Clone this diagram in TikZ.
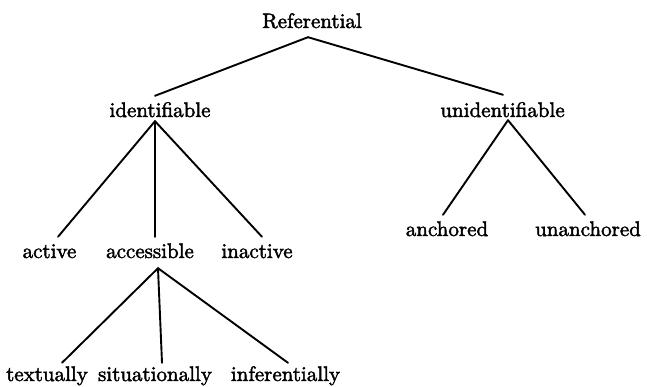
\documentclass[tikz,border=0pt]{standalone}
\usepackage{fontspec}
\newfontfamily\lblfont{lmroman10-regular.otf}[FakeBold=2]
\begin{document}
\begin{tikzpicture}[x=1pt,y=1pt,
  lbl/.style={inner sep=0pt, text height=14pt, text depth=0pt, anchor=base,
    font=\lblfont\fontsize{21}{25}\selectfont},
  branch/.style={line width=1.9pt, line cap=round}]
\useasboundingbox (0,0) rectangle (647,-387);
\fill[white] (0,0) rectangle (647,-387);
% nodes
\node[lbl] (ref) at (312,-28) {Referential};
\node[lbl] (ident) at (160,-117) {identifiable};
\node[lbl] (unident) at (502.5,-117) {unidentifiable};
\node[lbl] (active) at (49.5,-258) {active};
\node[lbl] (access) at (150,-258) {accessible};
\node[lbl] (inact) at (257,-258) {inactive};
\node[lbl] (anch) at (447,-236) {anchored};
\node[lbl] (unanch) at (588,-236) {unanchored};
\node[lbl] (text) at (47,-381) {textually};
\node[lbl] (situ) at (155,-381) {situationally};
\node[lbl] (infer) at (285.5,-381) {inferentially};
% connectors
\draw[branch] ([shift={(-4,-9)}]ref.south) -- ([shift={(-5,7)}]ident.north);
\draw[branch] ([shift={(-4,-9)}]ref.south) -- ([shift={(0.5,8)}]unident.north);
\draw[branch] ([shift={(-5,-4)}]ident.south) -- ([shift={(8.5,7)}]active.north);
\draw[branch] ([shift={(-5,-4)}]ident.south) -- ([shift={(5,7)}]access.north);
\draw[branch] ([shift={(-5,-4)}]ident.south) -- ([shift={(5,7)}]inact.north);
\draw[branch] ([shift={(5.5,-3)}]unident.south) -- ([shift={(-4,7)}]anch.north);
\draw[branch] ([shift={(5.5,-3)}]unident.south) -- ([shift={(-3,7)}]unanch.north);
\draw[branch] ([shift={(8,-10)}]access.south) -- ([shift={(15,4)}]text.north);
\draw[branch] ([shift={(8,-10)}]access.south) -- ([shift={(7,4)}]situ.north);
\draw[branch] ([shift={(8,-10)}]access.south) -- ([shift={(2.5,4)}]infer.north);
\end{tikzpicture}
\end{document}
